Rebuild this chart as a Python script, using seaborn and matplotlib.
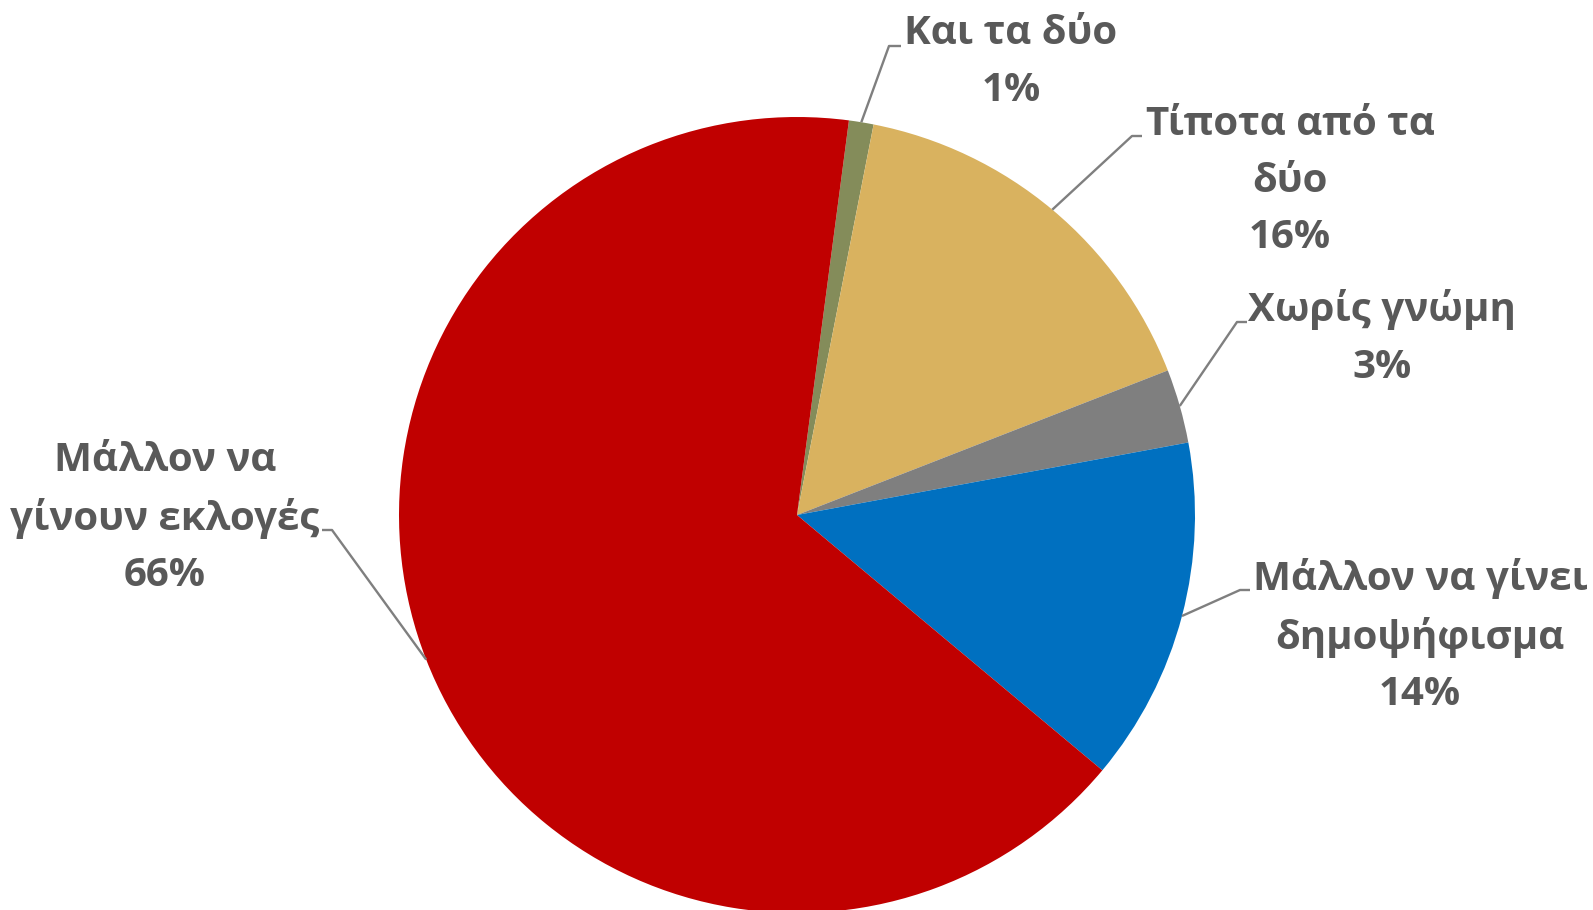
import matplotlib
matplotlib.use("Agg")
import numpy as np
import matplotlib.pyplot as plt
import seaborn as sns

# data
labels = ['Και τα δύο', 'Τίποτα από τα\nδύο', 'Χωρίς γνώμη',
          'Μάλλον να γίνει\nδημοψήφισμα', 'Μάλλον να\nγίνουν εκλογές']
values = [1, 16, 3, 14, 66]
colors = ['#848C5A', '#D9B25F', '#7F7F7F', '#0070C0', '#C00000']

# label layout in pixels (y measured from top)
label_xy = [(1011, 62), (1290, 181), (1382, 338), (1420, 636), (165, 518)]
elbow_xy = [(889, 46), (1132, 136), (1237, 322), (1240, 590), (332, 530)]
end_xy = [(901, 46), (1142, 136), (1247, 322), (1250, 590), (322, 530)]

sns.set_theme(style='white')
plt.rcParams['font.family'] = ['Open Sans', 'DejaVu Sans']

W, H = 1593, 910
cx, cy, r = 797, 515, 398

fig = plt.figure(figsize=(W / 100, H / 100), dpi=100)
ax = fig.add_axes([0, 0, 1, 1])
wedges, _ = ax.pie(values, colors=colors, startangle=82.5, counterclock=False,
                   center=(cx, H - cy), radius=r, frame=True,
                   wedgeprops=dict(linewidth=0, edgecolor='none'))
ax.set_xlim(0, W)
ax.set_ylim(0, H)
ax.set_axis_off()

total = sum(values)
for w, lab, v, lxy, exy, dxy in zip(wedges, labels, values, label_xy, elbow_xy, end_xy):
    mid = np.deg2rad((w.theta1 + w.theta2) / 2)
    sx = cx + r * np.cos(mid)
    sy = (H - cy) + r * np.sin(mid)
    ax.plot([sx, exy[0], dxy[0]], [sy, H - exy[1], H - dxy[1]],
            color='#7F7F7F', lw=1.7, solid_capstyle='butt')
    ax.text(lxy[0], H - lxy[1], f'{lab}\n{round(v / total * 100)}%',
            ha='center', va='center', ma='center', fontsize=29,
            fontweight='bold', color='#595959', linespacing=1.58)

fig.savefig('out.png', dpi=100)
